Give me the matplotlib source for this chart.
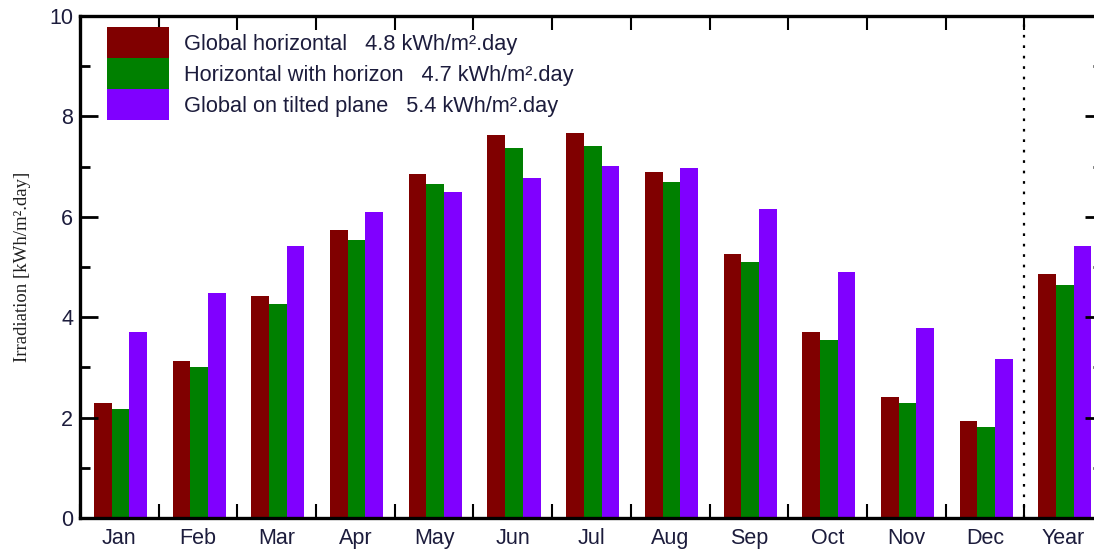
import numpy as np
import matplotlib.pyplot as plt
from matplotlib.ticker import MultipleLocator, FixedLocator

months = ['Jan', 'Feb', 'Mar', 'Apr', 'May', 'Jun', 'Jul', 'Aug', 'Sep', 'Oct', 'Nov', 'Dec', 'Year']
global_horizontal = [2.30, 3.13, 4.42, 5.73, 6.86, 7.62, 7.66, 6.90, 5.26, 3.70, 2.42, 1.94, 4.86]
horizontal_horizon = [2.18, 3.01, 4.26, 5.54, 6.65, 7.37, 7.42, 6.70, 5.10, 3.54, 2.30, 1.82, 4.65]
tilted_plane = [3.70, 4.49, 5.41, 6.09, 6.50, 6.77, 7.01, 6.97, 6.15, 4.90, 3.78, 3.17, 5.41]
labels = ['Global horizontal   4.8 kWh/m\u00b2.day',
          'Horizontal with horizon   4.7 kWh/m\u00b2.day',
          'Global on tilted plane   5.4 kWh/m\u00b2.day']
colors = ['#800000', '#008000', '#8000ff']

txt = '#1c1c3c'
plt.rcParams['font.family'] = ['Liberation Sans', 'DejaVu Sans']

fig = plt.figure(figsize=(10.94, 5.51), dpi=100)
ax = fig.add_axes([80 / 1094, 33 / 551, 1023 / 1094, 502 / 551])

x = np.arange(len(months))
w = 0.225
for i, (vals, c, lab) in enumerate(zip([global_horizontal, horizontal_horizon, tilted_plane], colors, labels)):
    ax.bar(x + (i - 1) * w + 0.015, vals, width=w, color=c, label=lab, edgecolor='none')

ax.set_xlim(-0.5, len(months) - 0.5)
ax.set_ylim(0, 10)

# separator before the yearly value
ax.axvline(11.5, color='black', linestyle=(0, (1.2, 3.5)), linewidth=1.6)

for s in ax.spines.values():
    s.set_linewidth(2.4)

ax.xaxis.set_major_locator(FixedLocator(np.arange(-0.5, len(months), 1.0)))
ax.xaxis.set_minor_locator(FixedLocator(x))
ax.set_xticklabels([], minor=False)
ax.set_xticklabels(months, minor=True)
ax.tick_params(axis='x', which='major', direction='in', top=True, length=10, width=1.5)
ax.tick_params(axis='x', which='minor', length=0, pad=7, labelsize=15.5, labelcolor=txt)

ax.yaxis.set_major_locator(MultipleLocator(2))
ax.yaxis.set_minor_locator(MultipleLocator(1))
ax.tick_params(axis='y', which='major', direction='in', right=True, length=13, width=2,
               pad=5, labelsize=15.5, labelcolor=txt)
ax.tick_params(axis='y', which='minor', direction='in', right=True, length=7, width=2)

ax.set_ylabel('Irradiation [kWh/m\u00b2.day]', family=['Liberation Serif', 'DejaVu Serif'],
              fontsize=13.5, color='#202020', labelpad=13)

ax.legend(loc='upper left', bbox_to_anchor=(27 / 1023, 1 - 11 / 502), frameon=False,
          borderpad=0, borderaxespad=0, labelspacing=0, handlelength=2.84, handleheight=1.81,
          handletextpad=0.69, fontsize=15.7, labelcolor=txt)

fig.savefig('out.png', dpi=100)
